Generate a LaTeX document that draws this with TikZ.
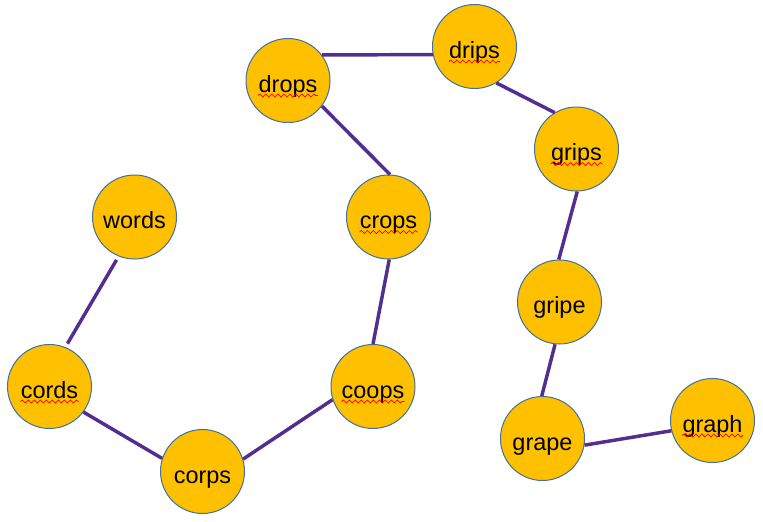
\documentclass[tikz,border=0pt]{standalone}
\usepackage{fontspec}
\setmainfont{Liberation Sans}
\usetikzlibrary{decorations.pathmorphing}
\definecolor{gold}{HTML}{FFC000}
\definecolor{rim}{HTML}{41719C}
\definecolor{wire}{RGB}{82,46,145}

\begin{document}
\begin{tikzpicture}[x=0.75pt, y=-0.75pt, thick, main/.style = {draw=rim, line width=0.75pt, circle, fill=gold, minimum size=63pt, inner sep=0pt, font=\fontsize{17.6}{20}\selectfont, text height=17.25pt, text depth=0pt}, conn/.style = {draw=wire, line width=2.6pt}, typo/.style = {draw=red, line width=0.6pt, decorate, decoration={snake, amplitude=1.1pt, segment length=4.5pt}}]
  \useasboundingbox (0,0) rectangle (763,521);
  \node[main] (drops) at (288,80.5) {drops};
  \node[main] (drips) at (474.5,46.5) {drips};
  \node[main] (grips) at (576.5,149) {grips};
  \node[main] (crops) at (388.5,217) {crops};
  \node[main] (words) at (134.5,217) {words};
  \node[main] (gripe) at (559.5,302) {gripe};
  \node[main] (cords) at (49.5,386.5) {cords};
  \node[main] (coops) at (373,386.5) {coops};
  \node[main] (corps) at (202.5,471.5) {corps};
  \node[main] (grape) at (542.5,438.5) {grape};
  \node[main] (graph) at (712.5,420.5) {graph};
  \draw[conn] (drops.37) to (drips.191);
  \draw[conn] (drips.301) to (grips.121);
  \draw[conn] (drops.323) to (crops.88);
  \draw[conn] (crops.271) to (coops.90);
  \draw[conn] (coops.198) to (corps.17);
  \draw[conn] (corps.162) to (cords.323);
  \draw[conn, shorten <=3pt, shorten >=3pt] (cords.68) to (words.248);
  \draw[conn] (grips.271) to (gripe.91);
  \draw[conn] (gripe.264) to (grape.91);
  \draw[conn] (grape.351) to (graph.194);
  % spell-check marks
  \draw[typo] ([shift={(-30,3.5)}]drops.base) -- ++(60,0);
  \draw[typo] ([shift={(-25.5,3.5)}]drips.base) -- ++(51,0);
  \draw[typo] ([shift={(-26,3.5)}]grips.base) -- ++(52,0);
  \draw[typo] ([shift={(-29,3.5)}]crops.base) -- ++(58,0);
  \draw[typo] ([shift={(-31.5,3.5)}]coops.base) -- ++(63,0);
  \draw[typo] ([shift={(-29,3.5)}]cords.base) -- ++(58,0);
  \draw[typo] ([shift={(-30.5,3.5)}]graph.base) -- ++(61,0);
\end{tikzpicture}
\end{document}
